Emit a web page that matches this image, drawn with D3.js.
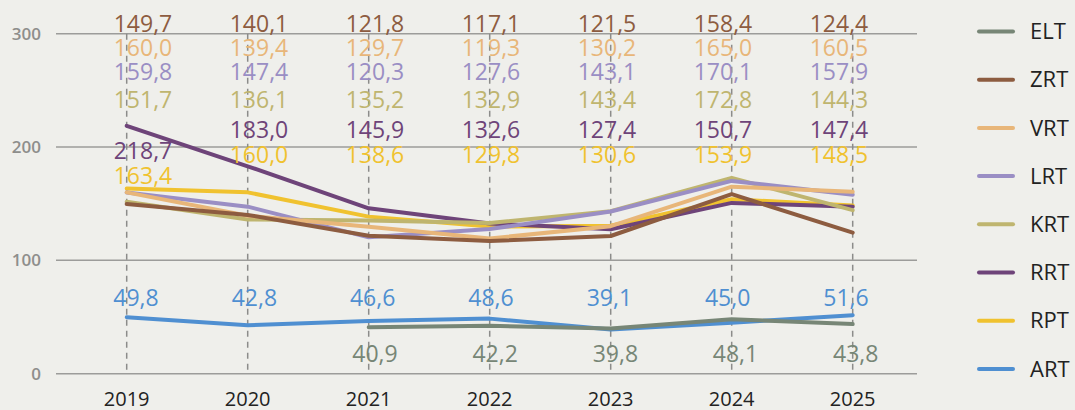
<!DOCTYPE html>
<html>
<head>
<meta charset="utf-8">
<script src="https://cdn.jsdelivr.net/npm/d3@7"></script>
<style>
  body { margin: 0; background: #efefeb; }
  svg { display: block; font-family: "Open Sans", "Noto Sans", sans-serif; }
</style>
</head>
<body>
<div id="chart"></div>
<script>
var w = 1075;
var h = 410;

// data
var years = [2019, 2020, 2021, 2022, 2023, 2024, 2025];
var seriesNames = ["ELT", "ZRT", "VRT", "LRT", "KRT", "RRT", "RPT", "ART"];
var colors = ["#778676", "#8d5c40", "#e8b679", "#9a8ec4", "#bfb56f", "#6e4479", "#f0c22f", "#4f8fd1"];

var ELT = [null, null, 40.9, 42.2, 39.8, 48.1, 43.8];
var ZRT = [149.7, 140.1, 121.8, 117.1, 121.5, 158.4, 124.4];
var VRT = [160.0, 139.4, 129.7, 119.3, 130.2, 165.0, 160.5];
var LRT = [159.8, 147.4, 120.3, 127.6, 143.1, 170.1, 157.9];
var KRT = [151.7, 136.1, 135.2, 132.9, 143.4, 172.8, 144.3];
var RRT = [218.7, 183.0, 145.9, 132.6, 127.4, 150.7, 147.4];
var RPT = [163.4, 160.0, 138.6, 129.8, 130.6, 153.9, 148.5];
var ART = [49.8, 42.8, 46.6, 48.6, 39.1, 45.0, 51.6];
var yTicks = [0, 100, 200, 300];

var values = [ELT, ZRT, VRT, LRT, KRT, RRT, RPT, ART];
var series = seriesNames.map(function(n, i) {
  return { name: n, color: colors[i], values: values[i] };
});

var fmt = function(v) { return d3.format(".1f")(v).replace(".", ","); };

var svg = d3.select("#chart").append("svg")
  .attr("width", w)
  .attr("height", h);

var x = d3.scalePoint().domain(years).range([126.7, 852.7]);
var y = d3.scaleLinear().domain([0, 300]).range([373.7, 33.7]);

// label columns sit on slightly different spacing than the lines
var xTop = d3.scalePoint().domain(years).range([143, 839]);
var xArt = d3.scalePoint().domain(years).range([136, 846]);
var xElt = d3.scalePoint().domain(years).range([134.6, 855.7]);

// grid
svg.append("g").selectAll("line")
    .data(yTicks)
  .enter().append("line")
    .attr("x1", 56).attr("x2", 917)
    .attr("y1", function(d) { return y(d); })
    .attr("y2", function(d) { return y(d); })
    .style("stroke", "#9c9c9a")
    .style("stroke-width", 1.5);

svg.append("g").selectAll("text")
    .data(yTicks)
  .enter().append("text")
    .attr("x", 41)
    .attr("y", function(d) { return y(d); })
    .attr("dy", "0.35em")
    .attr("text-anchor", "end")
    .style("font-size", "17px")
    .style("font-weight", 600)
    .style("fill", "#8e8e8c")
    .text(function(d) { return d; });

svg.append("g").selectAll("line")
    .data(years)
  .enter().append("line")
    .attr("x1", function(d) { return x(d); })
    .attr("x2", function(d) { return x(d); })
    .attr("y1", y(300)).attr("y2", y(0))
    .style("stroke", "#8c8c8a")
    .style("stroke-width", 1.5)
    .style("stroke-dasharray", "6,5");

// x axis labels
svg.append("g").selectAll("text")
    .data(years)
  .enter().append("text")
    .attr("x", function(d) { return x(d); })
    .attr("y", 406)
    .attr("text-anchor", "middle")
    .style("font-size", "20px")
    .style("fill", "#222")
    .text(function(d) { return d; });

// lines, ART first so ELT ends up on top
var line = d3.line()
  .defined(function(d) { return d != null; })
  .x(function(d, i) { return x(years[i]); })
  .y(function(d) { return y(d); });

svg.append("g").selectAll("path")
    .data(series.slice().reverse())
  .enter().append("path")
    .attr("d", function(d) { return line(d.values); })
    .style("fill", "none")
    .style("stroke", function(d) { return d.color; })
    .style("stroke-width", 4)
    .style("stroke-linecap", "round")
    .style("stroke-linejoin", "round");

// stacked value labels at the top
var topNames = ["ZRT", "VRT", "LRT", "KRT", "RRT", "RPT"];
var rowBase = [32, 56, 80, 108, 138, 163];
var topLabels = [];
years.forEach(function(yr, i) {
  var shift = 0;
  topNames.forEach(function(n, r) {
    var s = series[seriesNames.indexOf(n)];
    var base = rowBase[r] + shift;
    // push the label down if it would sit on its own line
    if (Math.abs((base - 8) - y(s.values[i])) < 12) {
      shift += 21;
      base += 21;
    }
    topLabels.push({ x: xTop(yr), y: base, color: s.color, v: s.values[i] });
  });
});

svg.append("g").selectAll("text")
    .data(topLabels)
  .enter().append("text")
    .attr("x", function(d) { return d.x; })
    .attr("y", function(d) { return d.y; })
    .attr("text-anchor", "middle")
    .style("font-size", "23px")
    .style("fill", function(d) { return d.color; })
    .text(function(d) { return fmt(d.v); });

svg.append("g").selectAll("text")
    .data(years)
  .enter().append("text")
    .attr("x", function(d) { return xArt(d); })
    .attr("y", 306)
    .attr("text-anchor", "middle")
    .style("font-size", "23px")
    .style("fill", colors[7])
    .text(function(d, i) { return fmt(ART[i]); });

svg.append("g").selectAll("text")
    .data(years.filter(function(d, i) { return ELT[i] != null; }))
  .enter().append("text")
    .attr("x", function(d) { return xElt(d); })
    .attr("y", 362)
    .attr("text-anchor", "middle")
    .style("font-size", "23px")
    .style("fill", colors[0])
    .text(function(d) { return fmt(ELT[years.indexOf(d)]); });

// legend
var legend = svg.append("g").selectAll("g")
    .data(series)
  .enter().append("g")
    .attr("transform", function(d, i) { return "translate(0," + (31.5 + i * 48.2) + ")"; });

legend.append("line")
  .attr("x1", 979).attr("x2", 1013)
  .style("stroke", function(d) { return d.color; })
  .style("stroke-width", 4)
  .style("stroke-linecap", "round");

legend.append("text")
  .attr("x", 1030)
  .attr("dy", "0.35em")
  .style("font-size", "22px")
  .style("fill", "#222")
  .text(function(d) { return d.name; });
</script>
</body>
</html>
